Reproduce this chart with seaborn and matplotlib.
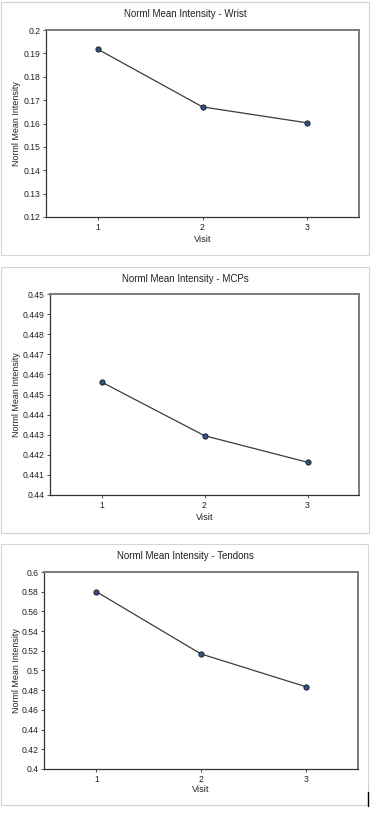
import matplotlib
matplotlib.use("Agg")
import matplotlib.pyplot as plt
import seaborn as sns
import pandas as pd
from matplotlib.patches import Rectangle
from matplotlib.lines import Line2D

visits = [1, 2, 3]
wrist = [0.1917, 0.1671, 0.1603]
mcps = [0.44562, 0.44295, 0.44163]
tendons = [0.5800, 0.5168, 0.4836]

titles = ["Norml Mean Intensity - Wrist",
          "Norml Mean Intensity - MCPs",
          "Norml Mean Intensity - Tendons"]
wrist_ticks = [0.12, 0.13, 0.14, 0.15, 0.16, 0.17, 0.18, 0.19, 0.2]
mcps_ticks = [0.44, 0.441, 0.442, 0.443, 0.444, 0.445, 0.446, 0.447, 0.448, 0.449, 0.45]
tendons_ticks = [0.4, 0.42, 0.44, 0.46, 0.48, 0.5, 0.52, 0.54, 0.56, 0.58, 0.6]

sns.set_style("ticks")
plt.rcParams["font.family"] = ["Liberation Sans", "DejaVu Sans"]

W, H = 388, 816
fig = plt.figure(figsize=(W / 100, H / 100), dpi=100)
fig.patch.set_facecolor("white")

# pixel layout: border box, axes box, title y, xlabel y
layout = [
    ((1, 2, 369, 255), (46, 30, 359, 217), 14, 239),
    ((1, 267, 369, 533), (50, 294, 359, 495), 279, 517),
    ((1, 544, 368, 805), (44, 572, 358, 769), 556, 790),
]
series = [wrist, mcps, tendons]
yticks = [wrist_ticks, mcps_ticks, tendons_ticks]

for i, ((bx0, by0, bx1, by1), (ax0, ay0, ax1, ay1), ty, xly) in enumerate(layout):
    vals, yt = series[i], yticks[i]
    fig.add_artist(Rectangle((bx0 / W, 1 - by1 / H), (bx1 - bx0) / W, (by1 - by0) / H,
                             transform=fig.transFigure, fill=False,
                             edgecolor="#d4d4d4", linewidth=0.8))
    ax = fig.add_axes([ax0 / W, 1 - ay1 / H, (ax1 - ax0) / W, (ay1 - ay0) / H])
    df = pd.DataFrame({"Visit": visits, "val": vals})
    sns.lineplot(data=df, x="Visit", y="val", ax=ax, color="#3c3c3c", linewidth=0.9,
                 marker="o", markersize=3.8, markerfacecolor="#34508a",
                 markeredgecolor="#151515", markeredgewidth=0.6)
    ax.set_xlim(0.5, 3.5)
    ax.set_ylim(yt[0], yt[-1])
    ax.set_xticks(visits)
    ax.set_yticks(yt)
    ax.set_yticklabels([f"{v:g}" for v in yt])
    ax.set_xlabel("")
    ax.set_ylabel("")
    ax.tick_params(labelsize=6.2, length=2, width=0.6, pad=2, colors="#333333",
                   labelcolor="#222222")
    for s in ["left", "bottom"]:
        ax.spines[s].set_color("#333333")
        ax.spines[s].set_linewidth(0.9)
    for s in ["top", "right"]:
        ax.spines[s].set_visible(True)
        ax.spines[s].set_color("#7a7a7a")
        ax.spines[s].set_linewidth(1.4)
    fig.text(185 / W, 1 - ty / H, titles[i], ha="center", va="center",
             fontsize=7.0, color="#222222")
    fig.text((ax0 + ax1) / 2 / W, 1 - xly / H, "Visit", ha="center", va="center",
             fontsize=6.6, color="#222222")
    fig.text(17 / W, 1 - (ay0 + ay1) / 2 / H, "Norml Mean Intensity", ha="center",
             va="center", rotation=90, fontsize=6.4, color="#222222")

# small dark mark at the bottom right of the last panel
fig.add_artist(Line2D([368 / W, 368 / W], [1 - 806 / H, 1 - 792 / H],
                      transform=fig.transFigure, color="black", linewidth=1))

fig.savefig("out.png", dpi=100)
